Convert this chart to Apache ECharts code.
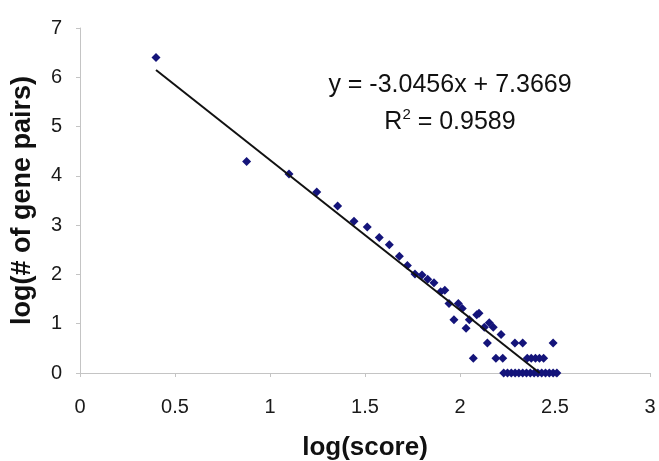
<!DOCTYPE html>
<html>
<head>
<meta charset="utf-8">
<script src="https://cdn.jsdelivr.net/npm/echarts@6/dist/echarts.min.js"></script>
<style>
  html, body { margin: 0; padding: 0; background: #fff; }
  #chart { width: 659px; height: 461px; }
</style>
</head>
<body>
<div id="chart"></div>
<script>
// log(score) values of the points
var scoreX = [
  0.40, 0.877, 1.10, 1.246, 1.356, 1.442, 1.512, 1.575, 1.628, 1.681,
  1.723, 1.763, 1.80, 1.83, 1.863, 1.898, 1.92, 1.942, 1.968, 1.991,
  2.012, 2.032, 2.049, 2.07, 2.088, 2.10, 2.128, 2.144, 2.154, 2.175,
  2.189, 2.216, 2.225, 2.289, 2.33, 2.354, 2.375, 2.397, 2.418, 2.44,
  2.49,
  2.23, 2.25, 2.27, 2.29, 2.31, 2.33, 2.35, 2.37, 2.39, 2.41, 2.43, 2.45, 2.47, 2.49, 2.51
];
// log(# of gene pairs) values
var pairsY = [
  6.40, 4.29, 4.04, 3.67, 3.39, 3.08, 2.96, 2.75, 2.60, 2.37,
  2.18, 2.01, 1.99, 1.90, 1.83, 1.65, 1.68, 1.41, 1.08, 1.41,
  1.31, 0.91, 1.08, 0.30, 1.18, 1.21, 0.93, 0.61, 1.02, 0.93,
  0.30, 0.78, 0.30, 0.61, 0.61, 0.30, 0.30, 0.30, 0.30, 0.30,
  0.61,
  0, 0, 0, 0, 0, 0, 0, 0, 0, 0, 0, 0, 0, 0, 0
];
// linear trend line
var slope = -3.0456;
var intercept = 7.3669;
var trendX = [0.4, 2.419];

var xTicks = [0, 0.5, 1, 1.5, 2, 2.5, 3];

var points = scoreX.map(function (x, i) { return [x, pairsY[i]]; });
var trend = trendX.map(function (x) { return [x, slope * x + intercept]; });

var chart = echarts.init(document.getElementById('chart'));
var font = 'Liberation Sans, Arial, sans-serif';
var axisGray = '#c4c4c4';

chart.setOption({
  animation: false,
  grid: { left: 80, right: 9, top: 28, bottom: 88, outerBoundsMode: 'none' },
  xAxis: {
    type: 'value',
    min: 0, max: 3, interval: 0.5,
    name: 'log(score)',
    nameLocation: 'middle',
    nameGap: 62,
    nameTextStyle: { fontFamily: font, fontSize: 26, fontWeight: 'bold', color: '#111' },
    axisLine: { show: true, lineStyle: { color: axisGray, width: 1 } },
    axisTick: { show: true, length: 4, lineStyle: { color: axisGray } },
    splitLine: { show: false },
    axisLabel: {
      fontFamily: font, fontSize: 20, color: '#1a1a1a', margin: 24,
      formatter: function (v) { return xTicks.indexOf(v) >= 0 ? String(v) : ''; }
    }
  },
  yAxis: {
    type: 'value',
    min: 0, max: 7, interval: 1,
    name: 'log(# of gene pairs)',
    nameLocation: 'middle',
    nameGap: 44,
    nameTextStyle: { fontFamily: font, fontSize: 27, fontWeight: 'bold', color: '#111' },
    axisLine: { show: true, lineStyle: { color: axisGray, width: 1 } },
    axisTick: { show: true, length: 4, lineStyle: { color: axisGray } },
    splitLine: { show: false },
    axisLabel: { fontFamily: font, fontSize: 20, color: '#1a1a1a', margin: 18 }
  },
  series: [
    {
      type: 'line',
      data: trend,
      symbol: 'none',
      lineStyle: { color: '#111', width: 2 },
      z: 3
    },
    {
      type: 'scatter',
      data: points,
      symbol: 'diamond',
      symbolSize: 9,
      itemStyle: { color: '#14147a', opacity: 1 },
      z: 2
    }
  ],
  graphic: [
    {
      type: 'text',
      x: 450, y: 85,
      style: {
        text: 'y = -3.0456x + 7.3669',
        font: '25px ' + font,
        fill: '#111',
        align: 'center',
        verticalAlign: 'middle'
      }
    },
    {
      type: 'text',
      x: 450, y: 121,
      style: {
        text: '{a|R}{s|2}{a| = 0.9589}',
        fill: '#111',
        align: 'center',
        verticalAlign: 'middle',
        rich: {
          a: { font: '25px ' + font, fill: '#111', verticalAlign: 'bottom' },
          s: { font: '15px ' + font, fill: '#111', verticalAlign: 'top', padding: [0, 0, 12, 0] }
        }
      }
    }
  ]
});
</script>
</body>
</html>
